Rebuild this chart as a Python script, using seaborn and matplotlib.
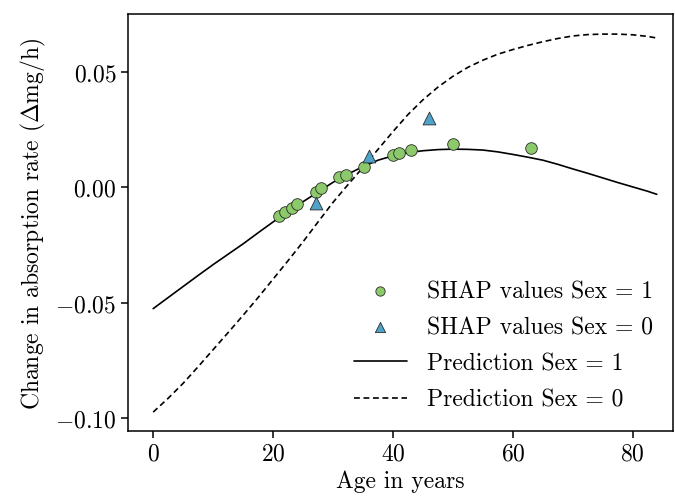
import numpy as np
import pandas as pd
import matplotlib
matplotlib.use("Agg")
import matplotlib.pyplot as plt
import seaborn as sns

# SHAP values, Sex = 1 (green circles)
age_s1 = [21.05, 22.0, 23.1, 24.0, 27.1, 28.0, 31.0, 32.1, 35.1, 40.05, 41.05, 43.0, 50.0, 63.0]
shap_s1 = [-0.0125, -0.0106, -0.0088, -0.0070, -0.0019, -0.0001, 0.0045, 0.0055,
           0.0090, 0.0140, 0.0151, 0.0161, 0.0188, 0.0173]

# SHAP values, Sex = 0 (blue triangles)
age_s0 = [27.1, 36.05, 46.05]
shap_s0 = [-0.0067, 0.0136, 0.0303]

# Prediction curves (read every 2.5 years)
age_pred = [0, 2.5, 5, 7.5, 10, 12.5, 15, 17.5, 20, 22.5, 25, 27.5, 30, 32.5, 35, 37.5,
            40, 42.5, 45, 47.5, 50, 52.5, 55, 57.5, 60, 62.5, 65, 67.5, 70, 72.5, 75,
            77.5, 80, 82.5, 84]
pred_s1 = [-0.0526, -0.0478, -0.0430, -0.0382, -0.0335, -0.0290, -0.0245, -0.0197,
           -0.0150, -0.0105, -0.0062, -0.0020, 0.0022, 0.0058, 0.0090, 0.0118,
           0.0137, 0.0151, 0.0159, 0.0164, 0.0166, 0.0165, 0.0162, 0.0154,
           0.0143, 0.0131, 0.0118, 0.0100, 0.0080, 0.0061, 0.0041, 0.0021,
           0.0002, -0.0017, -0.0030]
pred_s0 = [-0.0975, -0.0915, -0.0850, -0.0778, -0.0704, -0.0630, -0.0555, -0.0478,
           -0.0398, -0.0318, -0.0236, -0.0150, -0.0065, 0.0012, 0.0087, 0.0165,
           0.0242, 0.0316, 0.0380, 0.0435, 0.0482, 0.0521, 0.0552, 0.0578,
           0.0598, 0.0616, 0.0632, 0.0646, 0.0657, 0.0663, 0.0665, 0.0665,
           0.0662, 0.0655, 0.0648]

labels = ["SHAP values Sex = 1", "SHAP values Sex = 0",
          "Prediction Sex = 1", "Prediction Sex = 0"]
xticks = [0, 20, 40, 60, 80]
yticks = [-0.10, -0.05, 0.00, 0.05]
ytick_labels = ["$-0.10$", "$-0.05$", "$0.00$", "$0.05$"]
xtick_labels = ["$0$", "$20$", "$40$", "$60$", "$80$"]

sns.set_style("ticks")
plt.rcParams["font.family"] = "serif"
plt.rcParams["font.serif"] = ["cmr10", "DejaVu Serif"]
plt.rcParams["mathtext.fontset"] = "cm"
plt.rcParams["axes.formatter.use_mathtext"] = True
plt.rcParams["axes.unicode_minus"] = True
for key in ["text.color", "axes.labelcolor", "xtick.color", "ytick.color", "axes.edgecolor"]:
    plt.rcParams[key] = "black"

fig = plt.figure(figsize=(6.75, 5.02), dpi=100)
ax = fig.add_axes([0.1896, 0.1394, 0.8074, 0.8306])

df_s1 = pd.DataFrame({"age": age_s1, "shap": shap_s1})
df_s0 = pd.DataFrame({"age": age_s0, "shap": shap_s0})
df_p = pd.DataFrame({"age": age_pred, "p1": pred_s1, "p0": pred_s0})

sns.scatterplot(data=df_s1, x="age", y="shap", ax=ax, marker="o", s=70,
                color="#8cc96b", edgecolor="#2b2b2b", linewidth=0.6,
                label=labels[0], zorder=3)
sns.scatterplot(data=df_s0, x="age", y="shap", ax=ax, marker="^", s=85,
                color="#4fa3c8", edgecolor="#2b2b2b", linewidth=0.6,
                label=labels[1], zorder=3)
sns.lineplot(data=df_p, x="age", y="p1", ax=ax, color="black", lw=1.2,
             label=labels[2], zorder=2)
sns.lineplot(data=df_p, x="age", y="p0", ax=ax, color="black", lw=1.2,
             linestyle=(0, (3.5, 2.2)), label=labels[3], zorder=2)

ax.set_xlim(-4.2, 86.7)
ax.set_ylim(-0.1057, 0.0752)
ax.set_xticks(xticks)
ax.set_yticks(yticks)
ax.set_yticklabels(ytick_labels)
ax.set_xticklabels(xtick_labels)
ax.tick_params(labelsize=17, length=5, width=1.1)
for sp in ax.spines.values():
    sp.set_linewidth(1.1)
ax.set_xlabel("Age in years", fontsize=17, labelpad=3)
ax.set_ylabel("Change in absorption rate ($\\Delta$mg/h)", fontsize=17, labelpad=5)

leg = ax.legend(loc="lower right", frameon=False, fontsize=17,
                handlelength=2.25, handletextpad=0.85, labelspacing=0.6,
                borderaxespad=0.45, markerscale=0.8)

fig.savefig("out.png", dpi=100)
